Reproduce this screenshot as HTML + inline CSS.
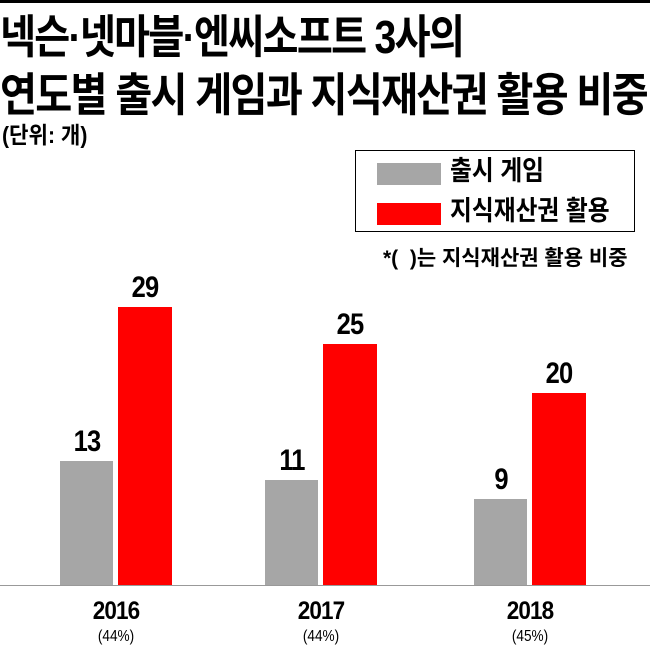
<!DOCTYPE html>
<html><head><meta charset="utf-8"><style>
body{margin:0;width:650px;height:653px;background:#fff;overflow:hidden;position:relative;font-family:"Liberation Sans","Noto Sans CJK KR",sans-serif;font-weight:bold;color:#000}
.t{position:absolute;white-space:nowrap;transform-origin:0 0;line-height:1}
.bar{position:absolute}
.g{background:#a6a6a6}.r{background:#ff0000}
.n{position:absolute;width:80px;text-align:center;font-size:30px;letter-spacing:-1px;transform:scaleX(.85)}
.y{position:absolute;width:120px;text-align:center;font-size:25px;letter-spacing:-1px;transform:scaleX(.9)}
.p{position:absolute;width:120px;text-align:center;font-size:16px;font-weight:normal;transform:scaleX(.85)}
</style></head><body>
<div style="position:absolute;left:0;top:0;width:650px;height:3px;background:#000"></div>
<div class="t" style="left:0;top:14px;font-size:46px;transform:scaleX(.85);letter-spacing:-2px">넥슨·넷마블·엔씨소프트 3사의</div>
<div class="t" style="left:0;top:72px;font-size:46px;transform:scaleX(.875);letter-spacing:-2px">연도별 출시 게임과 지식재산권 활용 비중</div>
<div class="t" style="left:2px;top:124px;font-size:23px;transform:scaleX(.92)">(단위: 개)</div>
<div style="position:absolute;left:355px;top:150px;width:280px;height:82px;border:1.5px solid #000;box-sizing:border-box"></div>
<div class="bar g" style="left:377px;top:163px;width:64px;height:22px"></div>
<div class="bar r" style="left:377px;top:203px;width:64px;height:22px"></div>
<div class="t" style="left:450px;top:158px;font-size:27px;transform:scaleX(.88)">출시 게임</div>
<div class="t" style="left:450px;top:198px;font-size:27px;transform:scaleX(.88)">지식재산권 활용</div>
<div class="t" style="left:383px;top:248px;font-size:21px;transform:scaleX(1)">*(&nbsp;&nbsp;)는 지식재산권 활용 비중</div>

<div class="bar g" style="left:60px;top:461px;width:53px;height:124px"></div>
<div class="bar r" style="left:118px;top:307px;width:54px;height:278px"></div>
<div class="bar g" style="left:265px;top:480px;width:53px;height:105px"></div>
<div class="bar r" style="left:323px;top:344px;width:54px;height:241px"></div>
<div class="bar g" style="left:474px;top:499px;width:53px;height:86px"></div>
<div class="bar r" style="left:532px;top:393px;width:54px;height:192px"></div>
<div style="position:absolute;left:0;top:585px;width:650px;height:1px;background:#999"></div>

<div class="n" style="left:47px;top:425px">13</div>
<div class="n" style="left:105px;top:271px">29</div>
<div class="n" style="left:252px;top:444px">11</div>
<div class="n" style="left:310px;top:308px">25</div>
<div class="n" style="left:461px;top:463px">9</div>
<div class="n" style="left:519px;top:357px">20</div>

<div class="y" style="left:56px;top:597px">2016</div>
<div class="y" style="left:261px;top:597px">2017</div>
<div class="y" style="left:470px;top:597px">2018</div>
<div class="p" style="left:56px;top:628px">(44%)</div>
<div class="p" style="left:261px;top:628px">(44%)</div>
<div class="p" style="left:470px;top:628px">(45%)</div>
</body></html>
